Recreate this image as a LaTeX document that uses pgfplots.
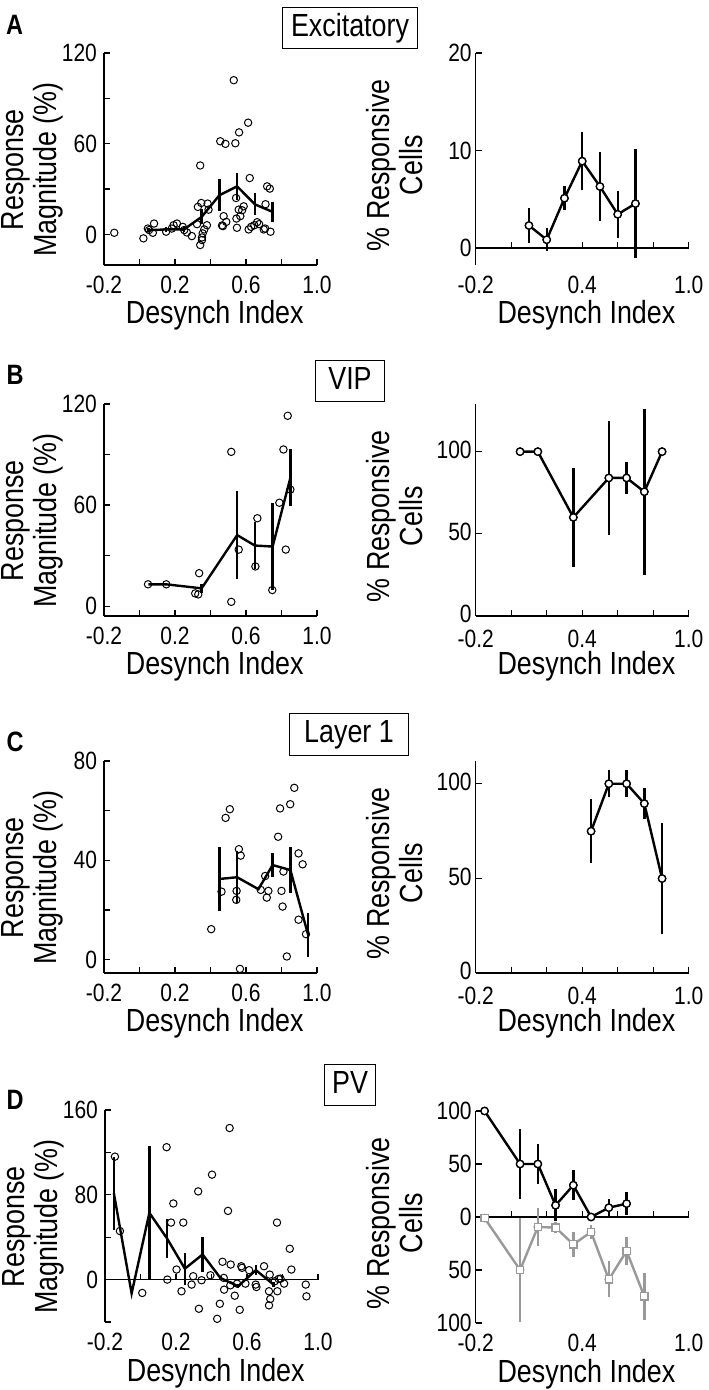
\documentclass[border=0pt]{standalone}
\usepackage{pgfplots}
\pgfplotsset{compat=1.18}
\usepackage{fontspec}
\setmainfont[FakeStretch=0.84]{Liberation Sans}
\definecolor{mygray}{gray}{0.6}
\newcommand\tickfont{\fontsize{12.5}{14}\selectfont}
\newcommand\labfont{\fontsize{16}{16.5}\selectfont}
\newcommand\letfont{\bfseries\fontsize{14}{15}\selectfont}

\pgfplotsset{
  base/.style={
    scale only axis, width=106.5pt, height=106pt,
    xmin=-0.2, xmax=1.0,
    axis x line=bottom, axis y line=left,
    axis line style={-, line width=0.6pt},
    tick align=inside, major tick length=3pt,
    tick style={line width=0.6pt, black},
    xtick={-0.2,0,0.2,0.4,0.6,0.8,1.0},
    tick label style={font=\tickfont},
    xticklabel style={inner ysep=0pt, yshift=-5.2pt},
    yticklabel style={inner ysep=0pt},
    label style={font=\labfont},
    xlabel={Desynch Index},
    xlabel style={at={(axis description cs:0.52,0)}, anchor=base, yshift=-29.5pt},
    clip=false,
  },
  leftp/.style={base, xticklabels={-0.2,,0.2,,0.6,,1.0},
    ylabel={Response\\Magnitude (\%)},
    ylabel style={align=center, at={(axis description cs:-0.335,0.45)}, anchor=center}},
  rightp/.style={base, xticklabels={-0.2,,,0.4,,,1.0},
    ylabel={\% Responsive\\Cells},
    ylabel style={align=center, at={(axis description cs:-0.379,0.47)}, anchor=center},
    yticklabel style={xshift=1.5pt}},
  cornerfix/.style={xticklabel style={yshift=-1.4pt}, yticklabel style={yshift=0.9pt}},
  zeroline/.style={x axis line style={draw=none}, xmajorticks=false},
  scat/.style={black, only marks, mark=o, mark size=1.85pt, mark options={line width=0.5pt}},
  meanl/.style={black, line width=1.2pt, mark=none,
    error bars/y dir=both, error bars/y explicit, error bars/error mark=none,
    error bars/error bar style={line width=1.2pt}},
  ebonly/.style={#1, only marks, mark=none,
    error bars/y dir=both, error bars/y explicit, error bars/error mark=none,
    error bars/error bar style={line width=1.2pt, #1}},
  ptline/.style={#1, line width=1.2pt, mark=*, mark size=1.8pt,
    mark options={fill=white, draw=#1, line width=0.6pt}},
}
\tikzset{xtl/.style={anchor=north, font=\tickfont, inner ysep=0pt, yshift=-5.2pt}}

\begin{document}
\begin{tikzpicture}
\path[use as bounding box] (0,0) rectangle (354pt,695pt);

% panel letters and titles
\node[font=\letfont] at (7.25pt,682.75pt) {A};
\node[font=\letfont] at (7.5pt,507.5pt) {B};
\node[font=\letfont] at (7.5pt,324pt) {C};
\node[font=\letfont] at (7.5pt,145pt) {D};
\tikzset{ttl/.style={draw, line width=0.5pt, font=\labfont, inner xsep=2pt, inner ysep=3pt, text height=11.5pt, text depth=3.4pt}}
\node[ttl, minimum width=67.3pt] at (175pt,681pt) {Excitatory};
\node[ttl, minimum width=34.3pt] at (175pt,504.5pt) {VIP};
\node[ttl, minimum width=59.8pt] at (174.5pt,327.75pt) {Layer 1};
\node[ttl, minimum width=25.3pt] at (175pt,152.5pt) {PV};

% ---------------- A left
\begin{axis}[leftp, at={(52pt,562.5pt)}, anchor=south west,
  ymin=-20.2, ymax=120, ytick={0,30,60,90,120}, yticklabels={0,,60,,120}]
\addplot[scat] coordinates {(-0.142,1.1) (0.022,-2.6) (0.047,3.9) (0.054,2.9) (0.075,1.1) (0.082,7.2) (0.150,1.8) (0.182,3.9) (0.192,6.1) (0.211,7.2) (0.244,5.0) (0.252,2.9) (0.267,1.3) (0.295,-1.1) (0.324,6.8) (0.329,18.2) (0.342,45.6) (0.348,20.8) (0.352,-3.7) (0.356,0.7) (0.352,-2.0) (0.342,-7.0) (0.365,3.3) (0.380,6.1) (0.389,16.4) (0.384,20.4) (0.455,61.6) (0.484,59.9) (0.474,12.1) (0.470,5.5) (0.465,5.9) (0.489,8.3) (0.540,60.3) (0.544,24.1) (0.561,67.5) (0.546,10.5) (0.549,4.4) (0.559,16.4) (0.568,12.1) (0.578,16.0) (0.587,18.6) (0.612,73.9) (0.621,37.3) (0.615,3.3) (0.629,5.0) (0.647,6.1) (0.663,8.1) (0.674,6.8) (0.700,3.3) (0.708,3.9) (0.710,20.0) (0.734,30.3) (0.719,31.8) (0.738,1.8) (0.531,102.0)};
\addplot[meanl] table[row sep=\\, y error=e] {x y e\\ 0.05 2.8 1.5\\ 0.15 3.3 1.5\\ 0.25 3.3 1.5\\ 0.35 11.6 5\\ 0.45 25.9 10.7\\ 0.55 31.8 8.7\\ 0.65 19.9 7.2\\ 0.75 14.9 6.7\\};
\end{axis}

% ---------------- A right
\begin{axis}[rightp, zeroline, at={(237.85pt,562.5pt)}, anchor=south west,
  ymin=-1.75, ymax=20, ytick={0,10,20}, yticklabels={0,10,20}]
\draw[line width=0.6pt] (axis cs:-0.2,0) -- (axis cs:1.0,0);
\pgfplotsinvokeforeach{0,0.2,0.4,0.6,0.8,1.0}{\draw[line width=0.6pt] (axis cs:#1,0) -- ++(0pt,3pt);}
\node[xtl] at (axis cs:-0.2,-1.75) {-0.2};
\node[xtl] at (axis cs:0.4,-1.75) {0.4};
\node[xtl] at (axis cs:1.0,-1.75) {1.0};
\addplot[ebonly=black] table[row sep=\\, y error=e] {x y e\\ 0.1 2.3 1.8\\ 0.2 0.84 1.2\\ 0.3 5.1 1.25\\ 0.4 8.9 3.0\\ 0.5 6.3 3.5\\ 0.6 3.45 2.4\\ 0.7 4.55 5.6\\};
\addplot[ptline=black] table[row sep=\\] {x y\\ 0.1 2.3\\ 0.2 0.84\\ 0.3 5.1\\ 0.4 8.9\\ 0.5 6.3\\ 0.6 3.45\\ 0.7 4.55\\};
\end{axis}

% ---------------- B left
\begin{axis}[leftp, at={(52pt,387pt)}, anchor=south west,
  ymin=-5.8, ymax=120, ytick={0,30,60,90,120}, yticklabels={0,,60,,120}]
\addplot[scat] coordinates {(0.048,13) (0.151,13) (0.314,7.6) (0.331,7) (0.336,19.6) (0.517,91.6) (0.517,2.6) (0.559,33.6) (0.653,23.6) (0.664,52.2) (0.748,9.6) (0.788,61.4) (0.811,93) (0.824,33.6) (0.835,113) (0.850,69.2)};
\addplot[meanl] table[row sep=\\, y error=e] {x y e\\ 0.05 13 0\\ 0.15 13 0\\ 0.35 10.6 2.5\\ 0.55 42.2 26\\ 0.65 36 14.2\\ 0.75 35.4 25.8\\ 0.85 76.2 17\\};
\end{axis}

% ---------------- B right
\begin{axis}[rightp, cornerfix, at={(237.85pt,387pt)}, anchor=south west,
  ymin=0, ymax=129, ytick={0,50,100}, yticklabels={0,50,100}]
\addplot[ebonly=black] table[row sep=\\, y error=e] {x y e\\ 0.05 100 0\\ 0.15 100 0\\ 0.35 60 30\\ 0.55 84 34.5\\ 0.65 84 10\\ 0.75 75.6 50.5\\ 0.85 100 0\\};
\addplot[ptline=black] table[row sep=\\] {x y\\ 0.05 100\\ 0.15 100\\ 0.35 60\\ 0.55 84\\ 0.65 84\\ 0.75 75.6\\ 0.85 100\\};
\end{axis}

% ---------------- C left
\begin{axis}[leftp, at={(52pt,208.5pt)}, anchor=south west,
  ymin=-5.35, ymax=80, ytick={0,20,40,60,80}, yticklabels={0,,40,,80}]
\addplot[scat] coordinates {(0.404,12.3) (0.462,27.4) (0.485,57.1) (0.509,60.6) (0.547,27.7) (0.545,24.1) (0.560,44.5) (0.570,41.9) (0.566,-3.7) (0.683,28.1) (0.708,33.7) (0.717,25.0) (0.726,27.7) (0.781,49.5) (0.792,60.9) (0.800,27.7) (0.806,21.4) (0.811,35.5) (0.830,1.3) (0.849,62.6) (0.872,69.2) (0.896,42.8) (0.919,38.4) (0.896,16.1) (0.938,10.3)};
\addplot[meanl] table[row sep=\\, y error=e] {x y e\\ 0.45 32.5 13\\ 0.55 33.2 10.5\\ 0.67 28.4 0\\ 0.75 38.1 4.8\\ 0.85 36.1 9.3\\ 0.95 10 9\\};
\end{axis}

% ---------------- C right
\begin{axis}[rightp, cornerfix, at={(237.85pt,208.5pt)}, anchor=south west,
  ymin=0, ymax=112, ytick={0,50,100}, yticklabels={0,50,100}]
\addplot[ebonly=black] table[row sep=\\, y error=e] {x y e\\ 0.45 74.9 17\\ 0.55 100 7\\ 0.65 100 7\\ 0.75 89.5 8\\ 0.85 49.9 29.5\\};
\addplot[ptline=black] table[row sep=\\] {x y\\ 0.45 74.9\\ 0.55 100\\ 0.65 100\\ 0.75 89.5\\ 0.85 49.9\\};
\end{axis}

% ---------------- D left
\begin{axis}[leftp, zeroline, at={(52.5pt,34pt)}, anchor=south west,
  ymin=-40, ymax=160, ytick={-40,0,40,80,120,160}, yticklabels={,0,,80,,160}]
\draw[line width=0.6pt] (axis cs:-0.2,0) -- (axis cs:1.0,0);
\pgfplotsinvokeforeach{0,0.2,0.4,0.6,0.8,1.0}{\draw[line width=0.6pt] (axis cs:#1,0) -- ++(0pt,3pt);}
\node[xtl] at (axis cs:-0.2,-40) {-0.2};
\node[xtl] at (axis cs:0.2,-40) {0.2};
\node[xtl] at (axis cs:0.6,-40) {0.6};
\node[xtl] at (axis cs:1.0,-40) {1.0};
\addplot[scat] coordinates {(-0.144,116) (-0.116,45.8) (0.010,-12.6) (0.147,124.9) (0.151,0) (0.172,53.8) (0.185,71.8) (0.203,9.5) (0.231,-11) (0.241,53.8) (0.297,3.2) (0.288,-4.7) (0.325,83.2) (0.329,-27.5) (0.344,-0.6) (0.394,4.1) (0.403,99) (0.432,-37) (0.447,-22.8) (0.462,16.8) (0.469,1.6) (0.471,-9.5) (0.493,64.8) (0.502,143) (0.508,14.2) (0.506,-5.4) (0.531,-15.2) (0.559,-28.5) (0.544,-3.8) (0.568,12.6) (0.572,11.1) (0.591,-3.8) (0.612,8.9) (0.649,-4.7) (0.653,-7) (0.696,12.6) (0.724,-24.3) (0.731,-18.3) (0.724,-11) (0.728,4.7) (0.756,-1.6) (0.769,53.8) (0.771,-11) (0.778,0.6) (0.789,0.9) (0.809,-3.8) (0.841,29.1) (0.850,9.5) (0.931,-4.7) (0.935,-15.8)};
\addplot[meanl] table[row sep=\\, y error=e] {x y e\\ -0.15 81.4 34.6\\ -0.05 -13 0\\ 0.05 63 63\\ 0.15 38.7 18\\ 0.25 10.3 15\\ 0.35 23.7 16.5\\ 0.45 1.6 2\\ 0.55 -6.3 2\\ 0.65 8.9 5\\ 0.75 -4.7 2\\};
\end{axis}

% ---------------- D right
\begin{axis}[rightp, zeroline, at={(237.85pt,33.5pt)}, anchor=south west,
  ymin=-100, ymax=100, ytick={-100,-50,0,50,100}, yticklabels={100,50,0,50,100}]
\draw[line width=0.6pt] (axis cs:-0.2,0) -- (axis cs:1.0,0);
\pgfplotsinvokeforeach{0,0.2,0.4,0.6,0.8,1.0}{\draw[line width=0.6pt] (axis cs:#1,0) -- ++(0pt,3pt);}
\node[xtl] at (axis cs:-0.2,-100) {-0.2};
\node[xtl] at (axis cs:0.4,-100) {0.4};
\node[xtl] at (axis cs:1.0,-100) {1.0};
\addplot[ebonly=mygray] table[row sep=\\, y error=e] {x y e\\ -0.15 -1 0\\ 0.05 -50 49\\ 0.15 -9.4 18\\ 0.25 -10 5\\ 0.35 -25.8 12\\ 0.45 -14.2 7\\ 0.55 -58.9 17\\ 0.65 -32.1 13\\ 0.75 -75 22\\};
\addplot[ptline=mygray, mark=square*] table[row sep=\\] {x y\\ -0.15 -1\\ 0.05 -50\\ 0.15 -9.4\\ 0.25 -10\\ 0.35 -25.8\\ 0.45 -14.2\\ 0.55 -58.9\\ 0.65 -32.1\\ 0.75 -75\\};
\addplot[ebonly=black] table[row sep=\\, y error=e] {x y e\\ -0.15 100 0\\ 0.05 50 33\\ 0.15 50 19\\ 0.25 11 15\\ 0.35 30 14\\ 0.45 0 0\\ 0.55 8.8 8\\ 0.65 12.6 11\\};
\addplot[ptline=black] table[row sep=\\] {x y\\ -0.15 100\\ 0.05 50\\ 0.15 50\\ 0.25 11\\ 0.35 30\\ 0.45 0\\ 0.55 8.8\\ 0.65 12.6\\};
\end{axis}
\end{tikzpicture}
\end{document}
